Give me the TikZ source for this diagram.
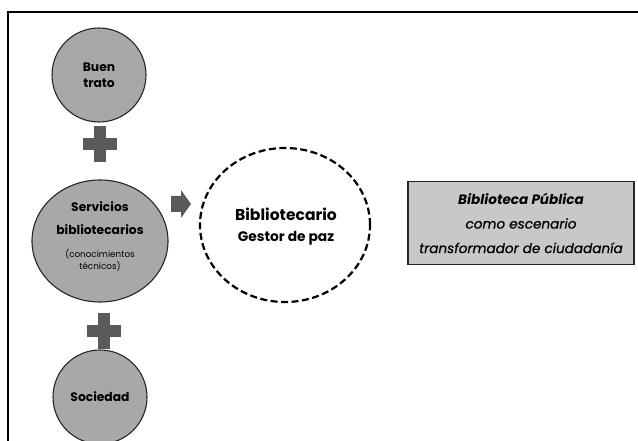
\documentclass[tikz,border=0pt]{standalone}
\usepackage{fontspec}
\setmainfont{Poppins}[ItalicFeatures={FakeBold=0.6}]
\usetikzlibrary{shapes.geometric}
\definecolor{ballc}{RGB}{168,168,168}
\definecolor{balll}{RGB}{222,222,222}
\definecolor{dark}{RGB}{90,90,90}
\definecolor{boxc}{RGB}{200,200,200}
\pgfdeclareradialshading{ball}{\pgfpoint{-9bp}{-3bp}}{color(0bp)=(ballc); color(42bp)=(ballc); color(57bp)=(balll); color(70bp)=(balll)}
\tikzset{
  ballnode/.style={ellipse, draw=black!85, line width=1.1pt, shading=ball, inner sep=0pt, align=center, font=\bfseries\fontsize{12.3}{16}\selectfont},
  plusmark/.style={fill=dark, draw=none},
  arrowmark/.style={fill=dark, draw=none},
  dashnode/.style={ellipse, draw=black, line width=2.2pt, dash pattern=on 7pt off 3.5pt, minimum width=170pt, minimum height=154pt, align=center},
  boxnode/.style={draw=black!85, line width=1.6pt, fill=boxc, minimum width=226pt, minimum height=83pt, align=center, font=\itshape\fontsize{13.6}{24.5}\selectfont},
  frameline/.style={line width=1.8pt, black}
}
\begin{document}
\begin{tikzpicture}[x=1pt,y=-1pt]
\useasboundingbox (0,0) rectangle (638,441);
\draw[frameline] (8,441) -- (8,12) -- (638,12);
% circles
\node[ballnode, minimum width=94pt, minimum height=94pt] (buen) at (99,75) {Buen\\trato};
\node[ballnode, minimum width=136pt, minimum height=122pt] (serv) at (100,241) {};
\node[font=\bfseries\fontsize{12.3}{22.5}\selectfont, align=center] (servt) at (100,218) {Servicios\\bibliotecarios};
\node[font=\fontsize{8.8}{12}\selectfont, align=center] (servs) at (100,260) {(conocimientos\\técnicos)};
\node[ballnode, minimum width=94pt, minimum height=94pt] (soc) at (100,397) {Sociedad};
% plus signs
\coordinate (p1) at (100,144);
\coordinate (p2) at (104,331);
\foreach \p in {p1,p2}{
  \fill[plusmark] ([xshift=-6pt,yshift=18pt]\p) rectangle ([xshift=6pt,yshift=-18pt]\p);
  \fill[plusmark] ([xshift=-17pt,yshift=6pt]\p) rectangle ([xshift=17pt,yshift=-6pt]\p);
}
% arrow
\coordinate (arr) at (171,220);
\fill[arrowmark] ([yshift=8pt]arr) -- ++(10,0) -- ++(0,6) -- ++(10,-14) -- ++(-10,-14) -- ++(0,6) -- ++(-10,0) -- cycle;
% dashed circle
\node[dashnode] (bib) at (285,225) {};
\node[font=\bfseries\fontsize{15.6}{18}\selectfont] (bibt) at (286,214) {Bibliotecario};
\node[font=\bfseries\fontsize{13.8}{15}\selectfont] (bibs) at (286,238) {Gestor de paz};
% box
\node[boxnode] (box) at (521,223) {\textbf{Biblioteca Pública}\\como escenario\\transformador de ciudadanía};
\end{tikzpicture}
\end{document}
